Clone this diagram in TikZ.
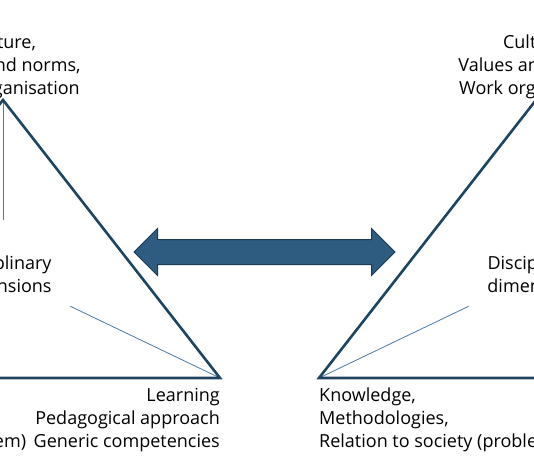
\documentclass[tikz,border=0pt]{standalone}
\usepackage{fontspec}
\setmainfont{Open Sans}
\usepackage{tikz}
\usetikzlibrary{positioning, calc, shapes.arrows}
\definecolor{edgeblue}{HTML}{1F4460}
\definecolor{spokeblue}{HTML}{4A7AA6}
\definecolor{arrowfill}{HTML}{2E5B80}
\definecolor{arrowedge}{HTML}{1B3A55}

\begin{document}
\begin{tikzpicture}[x=1pt, y=-1pt,
  edge/.style={edgeblue, line width=2.6pt, line join=miter},
  spoke/.style={spokeblue, line width=0.8pt},
  lbl/.style={inner sep=0pt, font=\fontsize{18}{23}\selectfont, text=black}]
  \useasboundingbox (0,0) rectangle (534,462);
  \clip (0,0) rectangle (534,462);
  % Two triangles, the second one shifted right
  \foreach \dx/\n in {0/L, 533/R} {
    \coordinate (apex\n) at (3+\dx, 100);
    \coordinate (left\n) at (-214+\dx, 378);
    \coordinate (right\n) at (220+\dx, 378);
    \node[lbl, align=center] (centre\n) at (3+\dx, 274) {Disciplinary\\dimensions};
    % Spokes towards the centre label
    \foreach \v in {apex, left, right}
      \draw[spoke] (\v\n) -- ($(\v\n)!0.69!(centre\n.center)$);
    \draw[edge] (apex\n) -- (left\n) -- (right\n) -- cycle;
    % Vertex labels
    \node[lbl, align=center, anchor=south, inner sep=1pt] (culture\n) at (apex\n)
      {Culture,\\Values and norms,\\Work organisation};
    \node[lbl, align=left, anchor=north west, yshift=-10pt] (knowledge\n) at (left\n)
      {Knowledge,\\Methodologies,\\Relation to society (problem)};
    \node[lbl, align=right, anchor=north east, yshift=-10pt] (learning\n) at (right\n)
      {Learning\\Pedagogical approach\\Generic competencies};
  }
  % Link between the triangles
  \node[double arrow, draw=arrowedge, fill=arrowfill, line width=1pt,
    minimum height=261pt, inner xsep=0pt, inner ysep=12pt,
    double arrow head extend=11pt] (link) at (264.5, 252) {};
\end{tikzpicture}
\end{document}
